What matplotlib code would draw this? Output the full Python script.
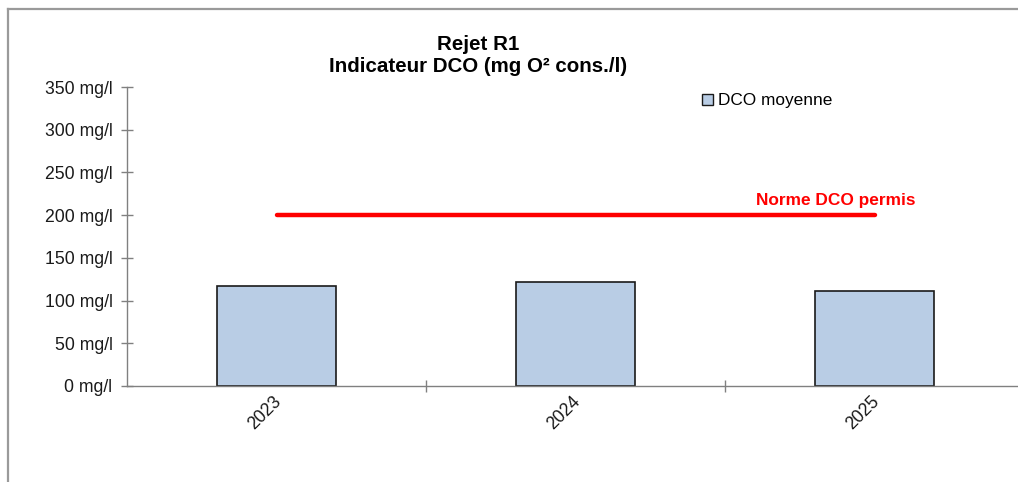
import matplotlib
matplotlib.use("Agg")
import matplotlib.pyplot as plt
from matplotlib.patches import Patch
from matplotlib.lines import Line2D
from matplotlib.ticker import FixedLocator, FuncFormatter
from matplotlib.transforms import ScaledTranslation

plt.rcParams['font.family'] = ['Liberation Sans', 'DejaVu Sans']

# Data
years = ['2023', '2024', '2025']
dco_moyenne = [117, 122, 111]
norme_dco = 200
y_ticks = [0, 50, 100, 150, 200, 250, 300, 350]

W, H = 1018, 482
fig = plt.figure(figsize=(W / 100, H / 100), dpi=100)

# Outer chart frame (left and top edges)
fig.add_artist(Line2D([8 / W, 8 / W], [0, 1 - 9 / H], color='#9a9a9a', lw=1.6,
                      transform=fig.transFigure))
fig.add_artist(Line2D([8 / W, 1], [1 - 9 / H, 1 - 9 / H], color='#9a9a9a', lw=1.6,
                      transform=fig.transFigure))

left_px, right_px = 127, 1018
ax = fig.add_axes([left_px / W, 1 - 386 / H, (right_px - left_px) / W, (386 - 87) / H])
cat_w = 299
ax.set_xlim(-0.5, (right_px - left_px) / cat_w - 0.5)
ax.set_ylim(0, 350)

x = list(range(len(years)))
ax.bar(x, dco_moyenne, width=0.4, color='#b9cde5', edgecolor='#1a1a1a', linewidth=1.2,
       zorder=2)

# Regulatory threshold line
ax.plot([x[0], x[-1]], [norme_dco, norme_dco], color='#ff0000', lw=3.2,
        solid_capstyle='round', zorder=3)
ax.text(1.87, norme_dco + 17, 'Norme DCO permis', color='#ff0000', fontsize=12.4,
        fontweight='bold', ha='center', va='center')

for s in ['top', 'right']:
    ax.spines[s].set_visible(False)
for s in ['left', 'bottom']:
    ax.spines[s].set_color('#808080')
    ax.spines[s].set_linewidth(1.0)

ax.yaxis.set_major_locator(FixedLocator(y_ticks))
ax.yaxis.set_major_formatter(FuncFormatter(lambda v, p: f'{int(v)} mg/l'))
ax.tick_params(axis='y', direction='inout', length=9, width=1.0, color='#808080',
               labelsize=12.7, pad=6, labelcolor='#1a1a1a')

ax.set_xticks(x)
ax.set_xticklabels(years, rotation=45, ha='right', rotation_mode='anchor',
                   fontsize=12.7, color='#1a1a1a')
ax.tick_params(axis='x', which='major', length=0, pad=5)
offset = ScaledTranslation(-4 / 100, 0, fig.dpi_scale_trans)
for lbl in ax.get_xticklabels():
    lbl.set_transform(lbl.get_transform() + offset)
ax.set_xticks([0.5, 1.5], minor=True)
ax.tick_params(axis='x', which='minor', direction='inout', length=9, width=1.0,
               color='#808080')

fig.text(478 / W, 1 - 45 / H, 'Rejet R1', ha='center', va='center', fontsize=14.8,
         fontweight='bold')
fig.text(478 / W, 1 - 66.5 / H, 'Indicateur DCO (mg O² cons./l)', ha='center',
         va='center', fontsize=14.8, fontweight='bold')

handle = Patch(facecolor='#b9cde5', edgecolor='#1a1a1a', linewidth=1.0)
fig.legend([handle], ['DCO moyenne'], loc='center left',
           bbox_to_anchor=(702 / W, 1 - 101 / H), frameon=False, fontsize=12.4,
           handlelength=0.65, handleheight=0.65, handletextpad=0.25, borderpad=0,
           borderaxespad=0)

fig.savefig('out.png', dpi=100)
